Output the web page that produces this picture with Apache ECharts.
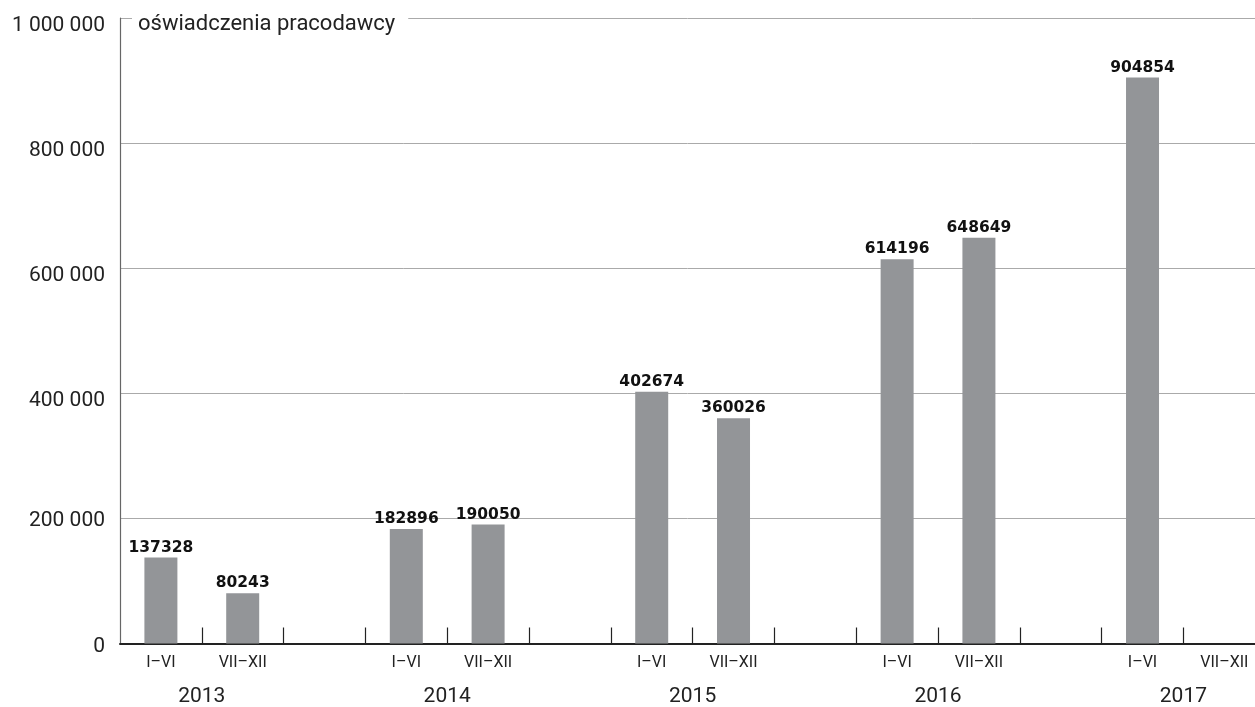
<!DOCTYPE html>
<html>
<head>
<meta charset="utf-8">
<script src="https://cdn.jsdelivr.net/npm/echarts@6/dist/echarts.min.js"></script>
<style>
html,body{margin:0;padding:0;background:#fff;}
#chart{width:1255px;height:707px;}
</style>
</head>
<body>
<div id="chart"></div>
<script>
const titleText = 'oświadczenia pracodawcy';
const categories = ['I–VI','VII–XII','', 'I–VI','VII–XII','', 'I–VI','VII–XII','', 'I–VI','VII–XII','', 'I–VI','VII–XII'];
const values = [137328, 80243, null, 182896, 190050, null, 402674, 360026, null, 614196, 648649, null, 904854, null];
const yearLabels = ['', '2013', '', '', '2014', '', '', '2015', '', '', '2016', '', '', '2017', ''];
const yTicks = { min: 0, max: 1000000, interval: 200000 };
// visible part of the slot axis: the 14th slot is cut by the right edge
const slotAxis = { min: 0, max: 13.875 };

const slotCenters = categories.map((c, i) => i + 0.5);
const slotBounds = categories.map((c, i) => i).filter(i => i > 0);
const yearPos = yearLabels.map((y, i) => y ? i : -1).filter(i => i >= 0);
const barData = values.map((v, i) => [i + 0.5, v]);

const chart = echarts.init(document.getElementById('chart'), null, {renderer: 'canvas'});
const fmt = v => String(v).replace(/\B(?=(\d{3})+(?!\d))/g, ' ');

chart.setOption({
  animation: false,
  backgroundColor: '#fff',
  title: {
    text: titleText,
    left: 132, top: 12,
    padding: [1, 13, 1, 6],
    backgroundColor: '#fff',
    textStyle: { fontFamily: 'Roboto', fontWeight: 'normal', fontSize: 22, color: '#222' }
  },
  grid: { left: 120, right: 0, top: 18, bottom: 62.5, containLabel: false },
  xAxis: [{
    type: 'value',
    min: slotAxis.min, max: slotAxis.max,
    position: 'bottom',
    axisLine: { show: true, onZero: false, lineStyle: { color: '#222', width: 2 } },
    axisTick: { show: true, inside: true, length: 16, customValues: slotBounds, lineStyle: { color: '#222', width: 1.2 } },
    axisLabel: {
      customValues: slotCenters, margin: 11, fontFamily: 'Roboto', fontSize: 16, color: '#222',
      formatter: v => categories[Math.floor(v)] || ''
    },
    splitLine: { show: false }
  }, {
    type: 'value',
    min: slotAxis.min, max: slotAxis.max,
    position: 'bottom',
    axisLine: { show: false },
    axisTick: { show: false },
    axisLabel: {
      customValues: yearPos, margin: 42.5, fontFamily: 'Roboto', fontSize: 21, color: '#222',
      formatter: v => yearLabels[Math.round(v)] || ''
    },
    splitLine: { show: false }
  }],
  yAxis: {
    type: 'value',
    min: yTicks.min, max: yTicks.max, interval: yTicks.interval,
    axisLine: { show: true, lineStyle: { color: '#666', width: 1.2 } },
    axisTick: { show: false },
    axisLabel: {
      margin: 15, color: '#222',
      formatter: v => v <= 200000 ? '{l|' + fmt(v) + '}' : '{n|' + fmt(v) + '}',
      rich: {
        n: { fontFamily: 'Roboto', fontSize: 21, color: '#222', padding: [14.5, 0, 0, 0] },
        l: { fontFamily: 'Roboto', fontSize: 21, color: '#222', padding: [5.5, 0, 0, 0] }
      }
    },
    splitLine: { show: true, lineStyle: { color: '#aaa', width: 1 } }
  },
  series: [{
    type: 'bar',
    data: barData,
    barWidth: 33,
    itemStyle: { color: '#939598' },
    label: {
      show: true, position: 'top', distance: 2,
      fontFamily: 'DejaVu Sans', fontWeight: 'bold', fontSize: 15.5, color: '#111',
      formatter: p => String(p.value[1])
    }
  }]
});
</script>
</body>
</html>
